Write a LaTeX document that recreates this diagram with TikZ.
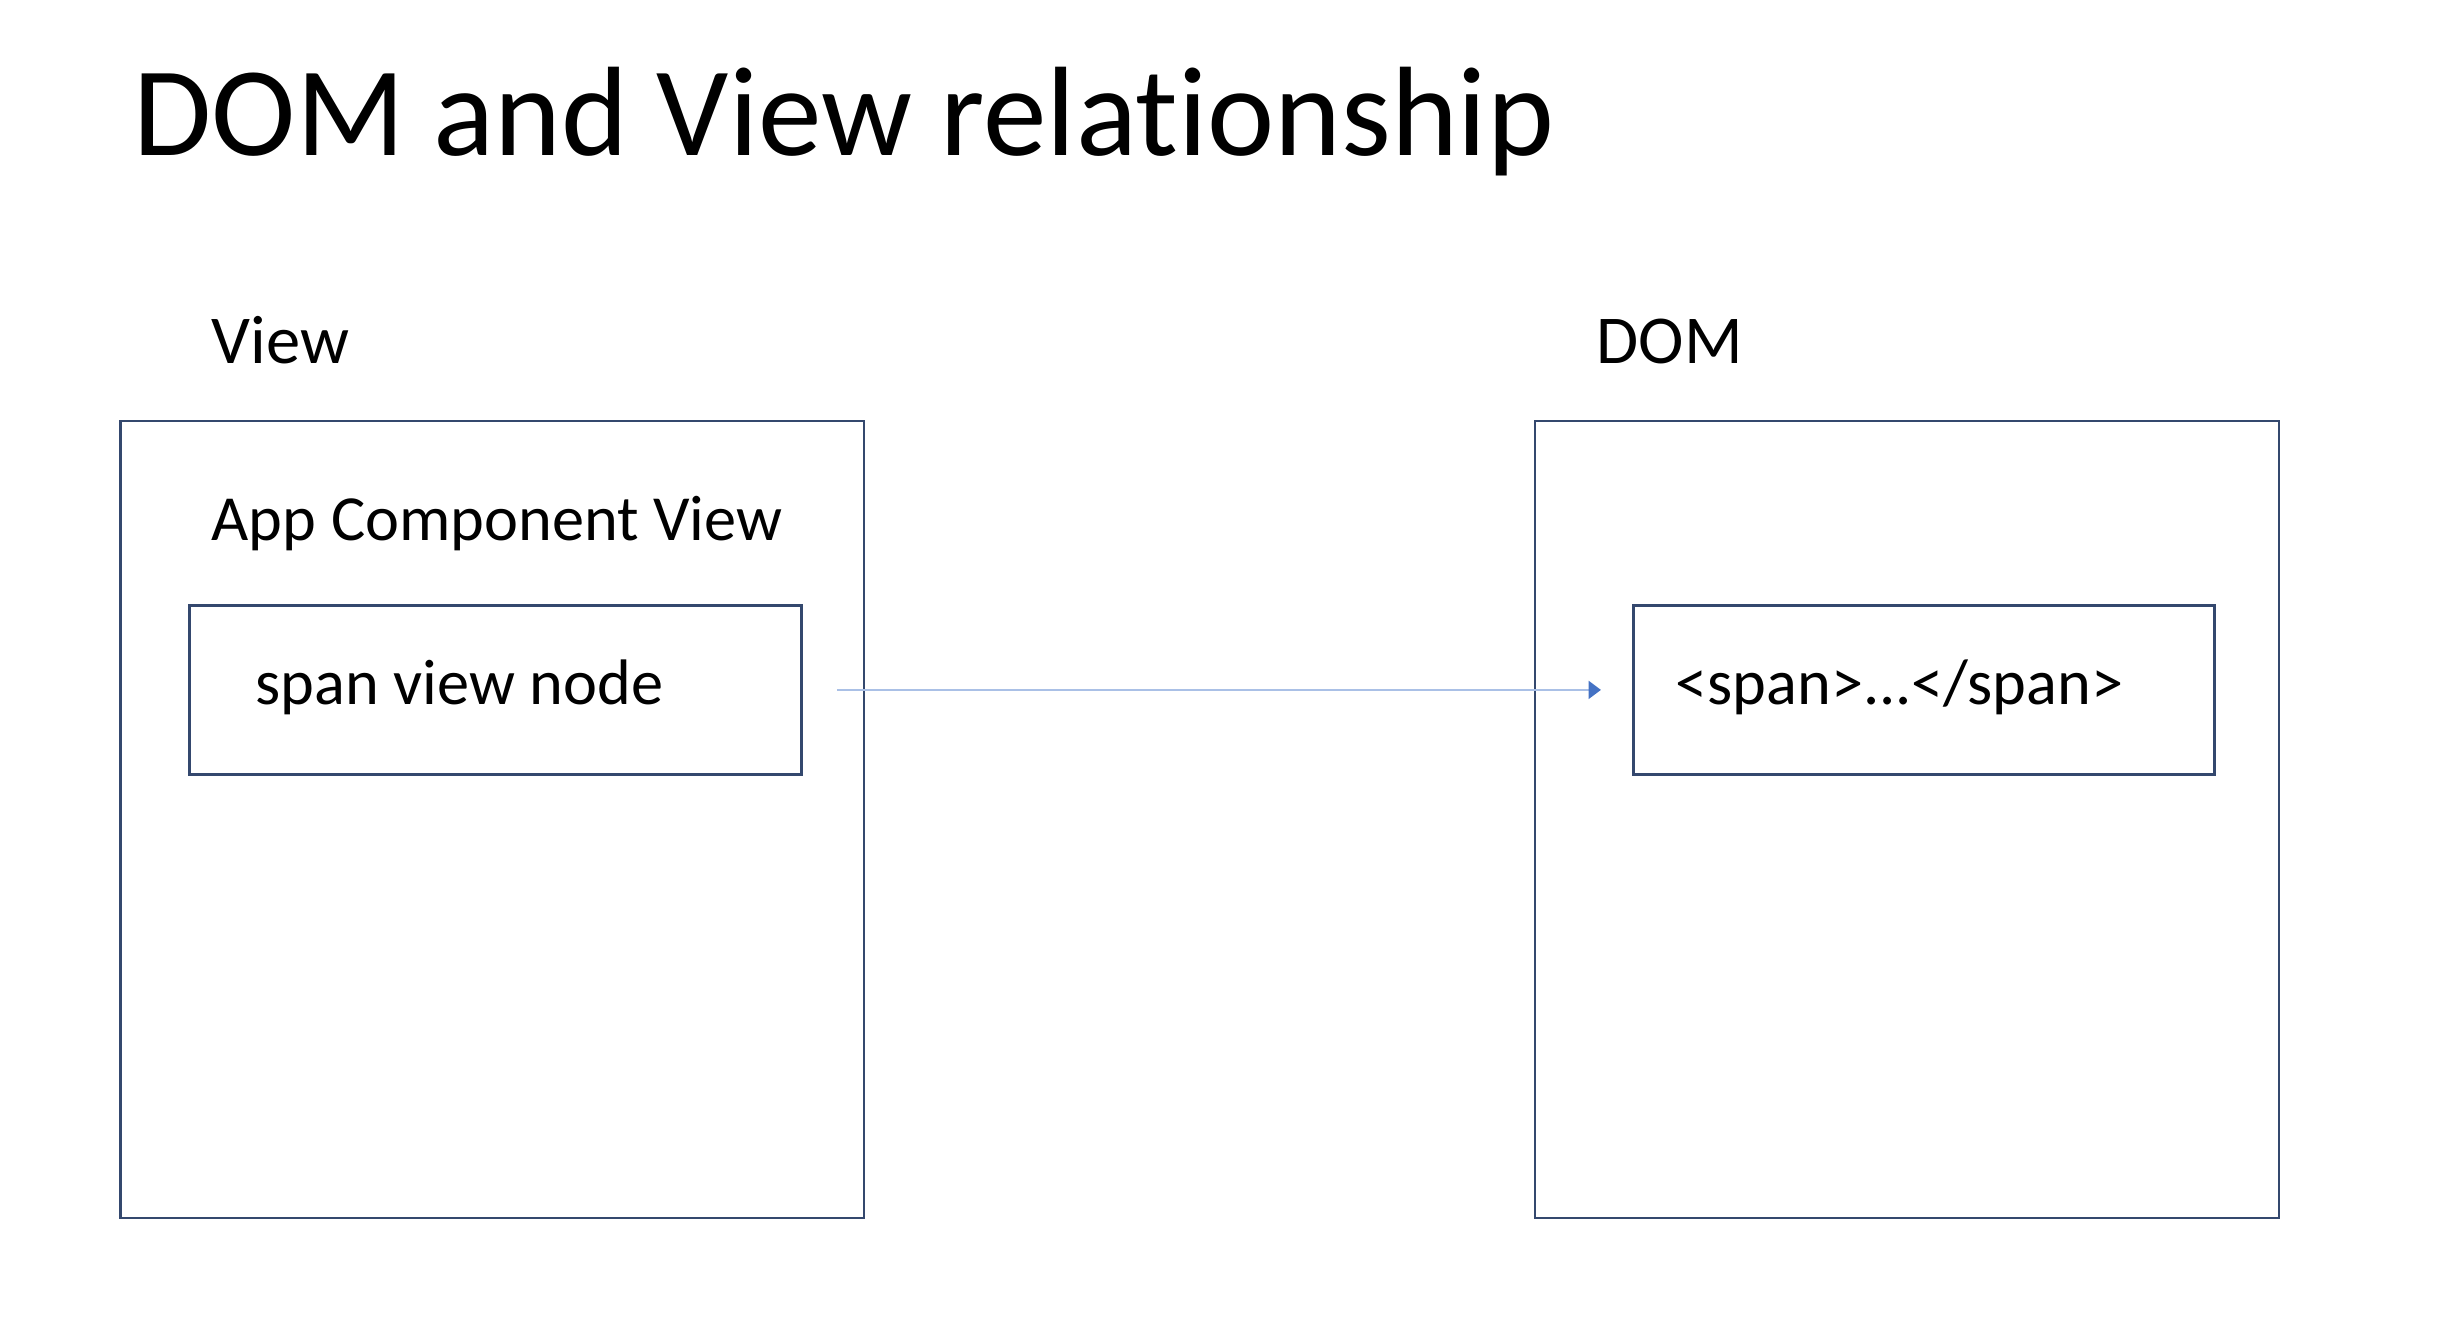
\documentclass[tikz,border=0pt]{standalone}
\usepackage{fontspec}
\setmainfont[Ligatures={NoCommon}]{Carlito}
\usetikzlibrary{arrows.meta}
\definecolor{boxline}{RGB}{52,72,110}
\definecolor{arrowblue}{RGB}{68,114,196}
\definecolor{arrowpale}{RGB}{170,192,230}
\tikzset{
  panel/.style={draw=boxline, line width=0.8pt, rectangle, inner sep=0pt},
  label/.style={anchor=base west, inner sep=0pt, font=\fontsize{18.3}{22}\selectfont},
  heading/.style={anchor=base west, inner sep=0pt, font=\fontsize{19.5}{23}\selectfont},
}

\begin{document}
\begin{tikzpicture}
\useasboundingbox (0,0) rectangle (24.54,-13.34);
\begin{scope}
\node[anchor=base west, inner sep=0pt, font=\fontsize{36.2}{42}\selectfont] (title) at (1.33,-1.56) {DOM and View relationship};
%left side
\node[heading] (viewlabel) at (2.11,-3.63) {View};
\draw[boxline, line width=0.8pt] (1.205,-4.21) rectangle (8.64,-12.18);
\node[label] (applabel) at (2.11,-5.40) {App Component View};
\node[panel, minimum width=6.12cm, minimum height=1.69cm, anchor=north west] (viewnode) at (1.88,-6.04) {};
\node[label] (spanlabel) at (2.55,-7.04) {span view node};
%right side
\node[heading] (domlabel) at (15.96,-3.63) {DOM};
\draw[boxline, line width=0.8pt] (15.35,-4.21) rectangle (22.79,-12.18);
\node[panel, minimum width=5.81cm, minimum height=1.69cm, anchor=north west] (domnode) at (16.32,-6.04) {};
\node[label] (domspan) at (16.75,-7.04) {<span>...</span>};
\draw[arrowpale, line width=0.8pt, -{Triangle[color=arrowblue, length=3.5pt, width=5pt]}, shorten <=0.34cm, shorten >=0.31cm] (viewnode.east) -- (domnode.west);
\end{scope}
\end{tikzpicture}
\end{document}
